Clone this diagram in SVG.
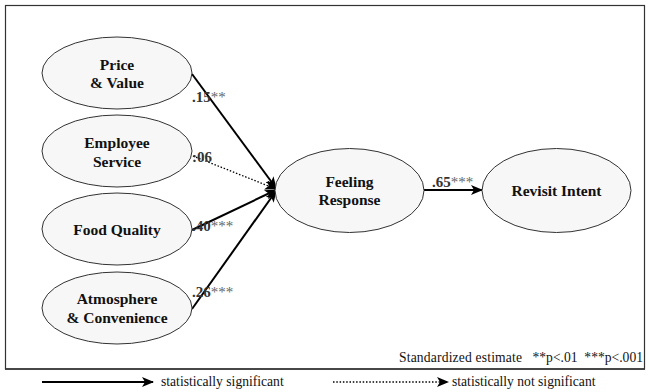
<svg xmlns="http://www.w3.org/2000/svg" width="650" height="392" viewBox="0 0 650 392">
<style>
.node ellipse{fill:#f7f7f7;stroke:#333;stroke-width:1}
.node text{font-family:'Liberation Serif','Times New Roman',serif;font-weight:bold;font-size:15.5px;fill:#111;text-anchor:middle}
.lab{font-family:'Liberation Serif','Times New Roman',serif;font-weight:bold;font-size:15px;fill:#333}
.lab tspan.s{fill:#666;font-weight:normal}
.note{font-family:'Liberation Serif','Times New Roman',serif;font-size:13.6px;fill:#111}
.sig{stroke:#000;stroke-width:2;fill:none;marker-end:url(#ah)}
.ns{stroke:#000;stroke-width:1.3;stroke-dasharray:1.5 1.8;fill:none;marker-end:url(#ah)}
</style>
<defs>
<marker id="ah" markerUnits="userSpaceOnUse" markerWidth="12" markerHeight="10" refX="11" refY="5" orient="auto">
<path d="M0,0 L12,5 L0,10 L3,5 z" fill="#000"/>
</marker>
</defs>
<rect x="5.5" y="5.5" width="639" height="363.5" fill="#fff" stroke="#333" stroke-width="1.2"/>
<line x1="5" y1="369" x2="645" y2="369" stroke="#333" stroke-width="1.5"/>
<g id="connectors">
<line class="sig" x1="192" y1="74" x2="276" y2="188"/>
<line class="ns" x1="193" y1="156" x2="276" y2="189"/>
<line class="sig" x1="192" y1="230" x2="276" y2="190"/>
<line class="sig" x1="192" y1="309" x2="276" y2="191"/>
<line class="sig" x1="424" y1="190" x2="482" y2="190"/>
</g>
<g id="labels">
<text class="lab" x="192" y="102">.15<tspan class="s">**</tspan></text>
<text class="lab" x="192" y="162">:06</text>
<text class="lab" x="192" y="231">.40<tspan class="s">***</tspan></text>
<text class="lab" x="192" y="297">.26<tspan class="s">***</tspan></text>
<text class="lab" x="432" y="187">.65<tspan class="s">***</tspan></text>
</g>
<g id="price" class="node"><ellipse cx="117" cy="73" rx="75" ry="36"/><text x="117" y="70">Price</text><text x="117" y="88">&amp; Value</text></g>
<g id="employee" class="node"><ellipse cx="117" cy="151" rx="75" ry="36"/><text x="117" y="148">Employee</text><text x="117" y="167">Service</text></g>
<g id="food" class="node"><ellipse cx="117" cy="229" rx="75" ry="36"/><text x="117" y="235">Food Quality</text></g>
<g id="atmosphere" class="node"><ellipse cx="117" cy="308" rx="75" ry="36"/><text x="117" y="304">Atmosphere</text><text x="117" y="323">&amp; Convenience</text></g>
<g id="feeling" class="node"><ellipse cx="349.5" cy="190.5" rx="74.5" ry="42"/><text x="349.5" y="187">Feeling</text><text x="349.5" y="205">Response</text></g>
<g id="revisit" class="node"><ellipse cx="556.5" cy="190.5" rx="74.5" ry="42"/><text x="556.5" y="196">Revisit Intent</text></g>
<text class="note" x="399" y="362" textLength="123">Standardized estimate</text>
<text class="note" x="643" y="362" text-anchor="end" xml:space="preserve">**p&lt;.01  ***p&lt;.001</text>
<g id="legend">
<line class="sig" x1="42" y1="382" x2="153" y2="382"/>
<text class="note" x="161" y="386">statistically significant</text>
<line class="ns" x1="333" y1="382" x2="448" y2="382"/>
<text class="note" x="452" y="386">statistically not significant</text>
</g>
</svg>
